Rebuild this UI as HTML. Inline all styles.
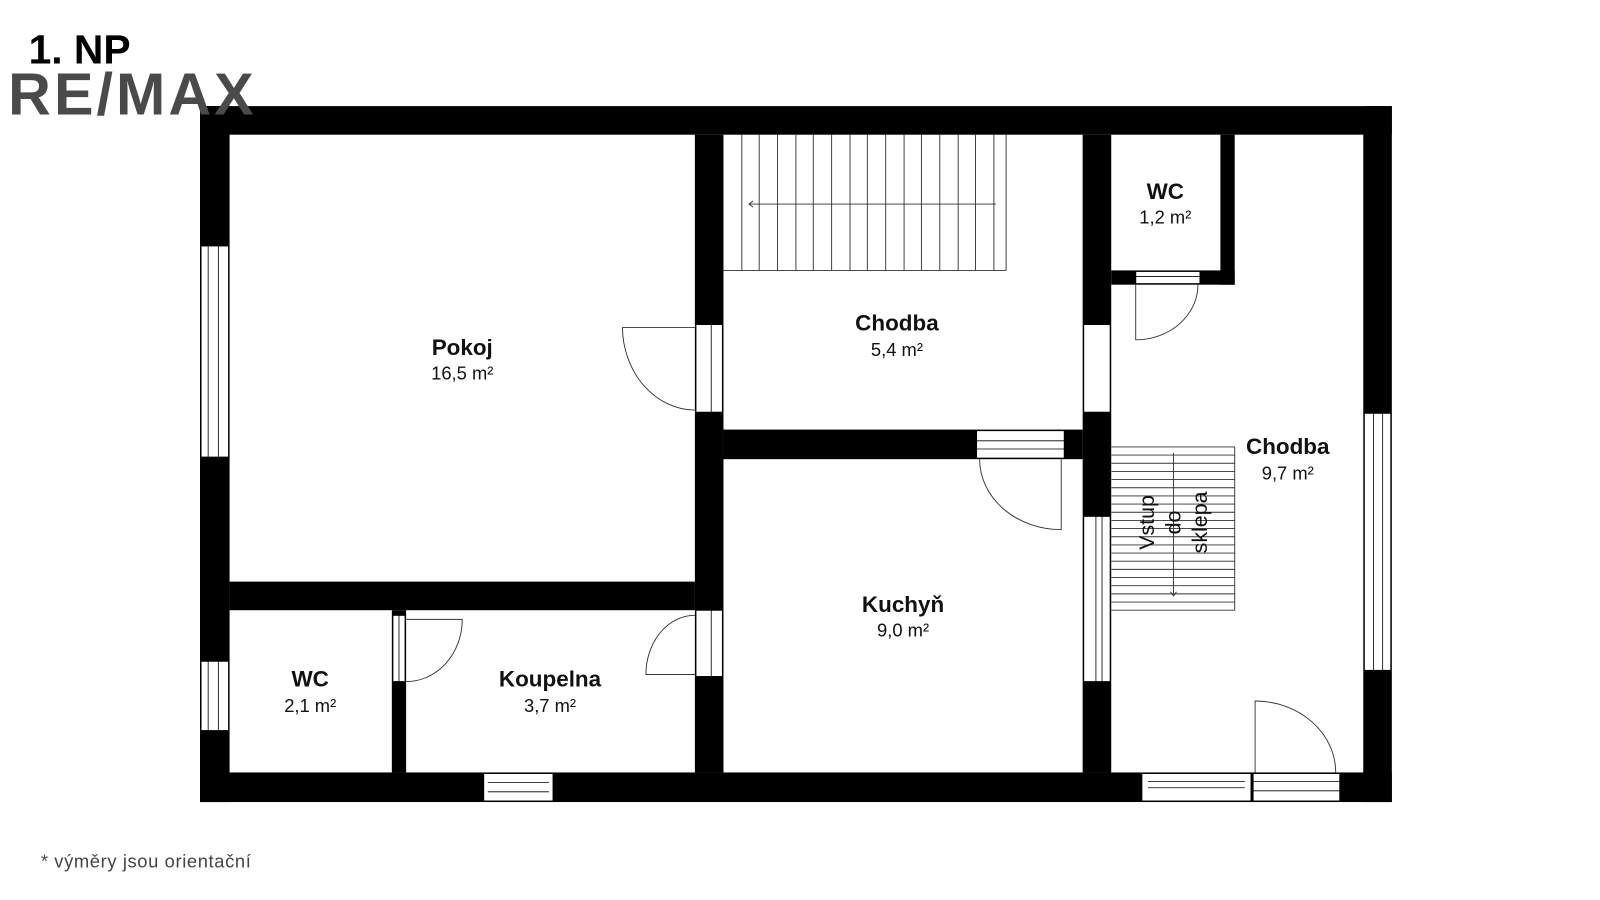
<!DOCTYPE html>
<html><head><meta charset="utf-8"><style>
html,body{margin:0;padding:0;background:#fff}
svg{display:block}
text{font-family:"Liberation Sans",sans-serif}
</style></head><body>
<svg width="1600" height="900" viewBox="0 0 1568 882" xmlns="http://www.w3.org/2000/svg">
<rect width="1568" height="882" fill="#fff"/>
<g fill="#000">
<rect x="196" y="104" width="1168" height="28"/>
<rect x="196" y="757" width="1168" height="29"/>
<rect x="196" y="104" width="29" height="682"/>
<rect x="1336" y="104" width="28" height="682"/>
<rect x="681" y="132" width="28" height="625"/>
<rect x="225" y="570" width="456" height="28"/>
<rect x="384" y="598" width="14" height="159"/>
<rect x="709" y="421" width="352" height="29"/>
<rect x="1061" y="132" width="28" height="625"/>
<rect x="1196" y="132" width="14" height="147"/>
<rect x="1089" y="265" width="121" height="14"/>
</g>
<g fill="#fff" stroke="#000" stroke-width="1">
<rect x="197" y="241" width="27" height="207"/>
<rect x="197" y="648" width="27" height="68"/>
<rect x="1337" y="405" width="26" height="252"/>
<rect x="474" y="758" width="68" height="27"/>
<rect x="1119" y="758" width="107" height="27"/>
<rect x="1228" y="758" width="85" height="27"/>
<rect x="682" y="318" width="26" height="86"/>
<rect x="682" y="598" width="26" height="65"/>
<rect x="1062" y="318" width="26" height="86"/>
<rect x="1062" y="506" width="26" height="162"/>
<rect x="385" y="603" width="12" height="65"/>
<rect x="957" y="422" width="86" height="27"/>
<rect x="1113" y="266" width="63" height="12"/>
</g>
<g stroke="#000" stroke-width="0.8" fill="none">
<line x1="204" y1="241" x2="204" y2="448"/><line x1="214" y1="241" x2="214" y2="448"/>
<line x1="204" y1="648" x2="204" y2="716"/><line x1="214" y1="648" x2="214" y2="716"/>
<line x1="1346" y1="405" x2="1346" y2="657"/><line x1="1355" y1="405" x2="1355" y2="657"/>
<line x1="478" y1="767" x2="538" y2="767"/><line x1="478" y1="776" x2="538" y2="776"/>
<line x1="1125" y1="766" x2="1220" y2="766"/><line x1="1125" y1="772" x2="1220" y2="772"/>
<line x1="1228" y1="766" x2="1313" y2="766"/><line x1="1228" y1="775" x2="1313" y2="775"/>
<line x1="697" y1="318" x2="697" y2="404"/><line x1="697" y1="598" x2="697" y2="663"/>
<line x1="1074" y1="506" x2="1074" y2="668"/><line x1="1080" y1="506" x2="1080" y2="668"/>
<line x1="391" y1="603" x2="391" y2="668"/>
<line x1="957" y1="432" x2="1043" y2="432"/><line x1="957" y1="440" x2="1043" y2="440"/>
<line x1="1113" y1="271" x2="1176" y2="271"/>
</g>
<g stroke="#333" stroke-width="0.9" fill="none">
<polyline points="709,265 986,265 986,132"/>
<line x1="727" y1="132" x2="727" y2="265"/><line x1="744" y1="132" x2="744" y2="265"/>
<line x1="762" y1="132" x2="762" y2="265"/><line x1="780" y1="132" x2="780" y2="265"/>
<line x1="797" y1="132" x2="797" y2="265"/><line x1="815" y1="132" x2="815" y2="265"/>
<line x1="833" y1="132" x2="833" y2="265"/><line x1="850" y1="132" x2="850" y2="265"/>
<line x1="868" y1="132" x2="868" y2="265"/><line x1="886" y1="132" x2="886" y2="265"/>
<line x1="903" y1="132" x2="903" y2="265"/><line x1="921" y1="132" x2="921" y2="265"/>
<line x1="939" y1="132" x2="939" y2="265"/><line x1="956" y1="132" x2="956" y2="265"/>
<line x1="974" y1="132" x2="974" y2="265"/>
<line x1="734" y1="200" x2="976" y2="200"/><polyline points="738,197 734,200 738,203"/>
<polyline points="1089,438 1210,438 1210,598 1089,598"/>
<line x1="1089" y1="446" x2="1210" y2="446"/><line x1="1089" y1="454" x2="1210" y2="454"/>
<line x1="1089" y1="462" x2="1210" y2="462"/><line x1="1089" y1="470" x2="1210" y2="470"/>
<line x1="1089" y1="478" x2="1210" y2="478"/><line x1="1089" y1="486" x2="1210" y2="486"/>
<line x1="1089" y1="494" x2="1210" y2="494"/><line x1="1089" y1="502" x2="1210" y2="502"/>
<line x1="1089" y1="510" x2="1210" y2="510"/><line x1="1089" y1="518" x2="1210" y2="518"/>
<line x1="1089" y1="526" x2="1210" y2="526"/><line x1="1089" y1="534" x2="1210" y2="534"/>
<line x1="1089" y1="542" x2="1210" y2="542"/><line x1="1089" y1="550" x2="1210" y2="550"/>
<line x1="1089" y1="558" x2="1210" y2="558"/><line x1="1089" y1="566" x2="1210" y2="566"/>
<line x1="1089" y1="574" x2="1210" y2="574"/><line x1="1089" y1="582" x2="1210" y2="582"/>
<line x1="1089" y1="590" x2="1210" y2="590"/>
<line x1="1150" y1="444" x2="1150" y2="584"/><polyline points="1147,580 1150,584 1153,580"/>
<path d="M681,321 H610 A72,82 0 0 0 681,402"/>
<path d="M1040,450 V519 A80,69 0 0 1 960,450"/>
<path d="M1113,279 V333 A61,54 0 0 0 1174,279"/>
<path d="M398,607 H453 A55,61 0 0 1 398,668"/>
<path d="M681,603 A48,58 0 0 0 633,661 H681"/>
<path d="M1230,757 V687 A79,70 0 0 1 1309,757"/>
</g>
<text x="8" y="112" font-size="58" font-weight="bold" fill="#4a4a4a" letter-spacing="3">RE/MAX</text>
<text x="28" y="62" font-size="40" font-weight="bold" fill="#000">1. NP</text>
<g fill="#111" text-anchor="middle" font-weight="bold">
<text x="453" y="348" font-size="22">Pokoj</text>
<text x="879" y="324" font-size="22">Chodba</text>
<text x="1142" y="195" font-size="22">WC</text>
<text x="1262" y="445" font-size="22">Chodba</text>
<text x="885" y="600" font-size="22">Kuchyň</text>
<text x="304" y="673" font-size="22">WC</text>
<text x="539" y="673" font-size="22">Koupelna</text>
</g>
<g fill="#111" text-anchor="middle" font-size="18">
<text x="453" y="372">16,5 m²</text>
<text x="879" y="349">5,4 m²</text>
<text x="1142" y="219">1,2 m²</text>
<text x="1262" y="470">9,7 m²</text>
<text x="885" y="624">9,0 m²</text>
<text x="304" y="698">2,1 m²</text>
<text x="539" y="698">3,7 m²</text>
</g>
<g fill="#111" text-anchor="middle" font-size="21">
<text transform="translate(1131,512) rotate(-90)">Vstup</text>
<text transform="translate(1157,512) rotate(-90)">do</text>
<text transform="translate(1183,512) rotate(-90)">sklepa</text>
</g>
<text x="40" y="850" font-size="18" fill="#444" letter-spacing="0.6">*  výměry jsou orientační</text>
</svg>
</body></html>
